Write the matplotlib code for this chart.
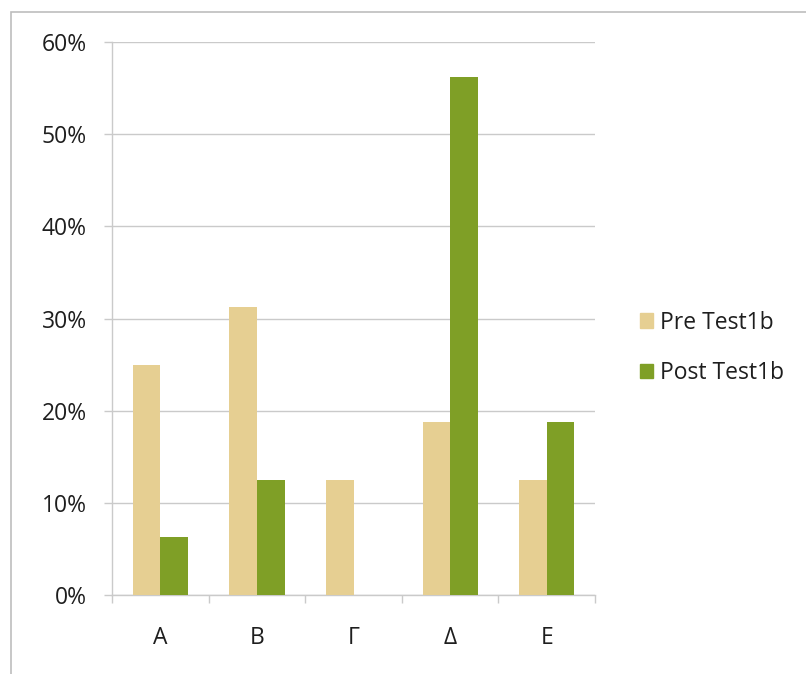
import matplotlib
matplotlib.use("Agg")
import matplotlib.pyplot as plt
import numpy as np
from matplotlib.patches import Rectangle

categories = ["Α", "Β", "Γ", "Δ", "Ε"]
pre_test = [25.0, 31.25, 12.5, 18.75, 12.5]
post_test = [6.25, 12.5, 0.0, 56.25, 18.75]
series_names = ["Pre Test1b", "Post Test1b"]
yticks = [0, 10, 20, 30, 40, 50, 60]

pre_color = "#E6CF92"
post_color = "#7F9F26"
grid_color = "#CACACA"
text_color = "#1E1E1E"
font_size = 16.5

plt.rcParams["font.family"] = ["Open Sans", "DejaVu Sans"]

fig = plt.figure(figsize=(8.06, 6.74), dpi=100)
fig.patch.set_facecolor("white")

# outer chart frame
fig.patches.append(Rectangle((11 / 806, -0.05), 1.2, 1 - 12 / 674 + 0.05,
                             transform=fig.transFigure, fill=False,
                             edgecolor="#BDBDBD", linewidth=1.2))

ax = fig.add_axes([112 / 806, 1 - 595 / 674, (595 - 112) / 806, (595 - 42) / 674])

x = np.arange(len(categories))
width = 1 / 3.5
ax.bar(x - width / 2, pre_test, width, color=pre_color, zorder=3)
ax.bar(x + width / 2, post_test, width, color=post_color, zorder=3)

ax.set_xlim(-0.5, len(categories) - 0.5)
ax.set_ylim(0, 60)
ax.set_yticks(yticks)
ax.set_yticklabels([f"{v}%" for v in yticks])
ax.yaxis.grid(True, color=grid_color, linewidth=1)
ax.set_axisbelow(True)

# category labels without tick marks; ticks at category boundaries
ax.set_xticks(x)
ax.set_xticklabels(categories)
ax.tick_params(axis="x", length=0, pad=22, labelsize=font_size, labelcolor=text_color)
ax.set_xticks(np.arange(-0.5, len(categories)), minor=True)
ax.tick_params(axis="x", which="minor", length=6, color=grid_color, width=1)
ax.tick_params(axis="y", length=6, color=grid_color, width=1, pad=12,
               labelsize=font_size, labelcolor=text_color)

for side in ["top", "right"]:
    ax.spines[side].set_visible(False)
for side in ["left", "bottom"]:
    ax.spines[side].set_color(grid_color)
    ax.spines[side].set_linewidth(1)

handles = [Rectangle((0, 0), 1, 1, color=pre_color),
           Rectangle((0, 0), 1, 1, color=post_color)]
fig.legend(handles, series_names, loc="center left",
           bbox_to_anchor=(619 / 806, 1 - 348 / 674), frameon=False,
           fontsize=font_size, handlelength=0.6, handleheight=0.6,
           handletextpad=0.3, labelspacing=1.15, labelcolor=text_color)

fig.savefig("out.png", dpi=100, facecolor="white")
